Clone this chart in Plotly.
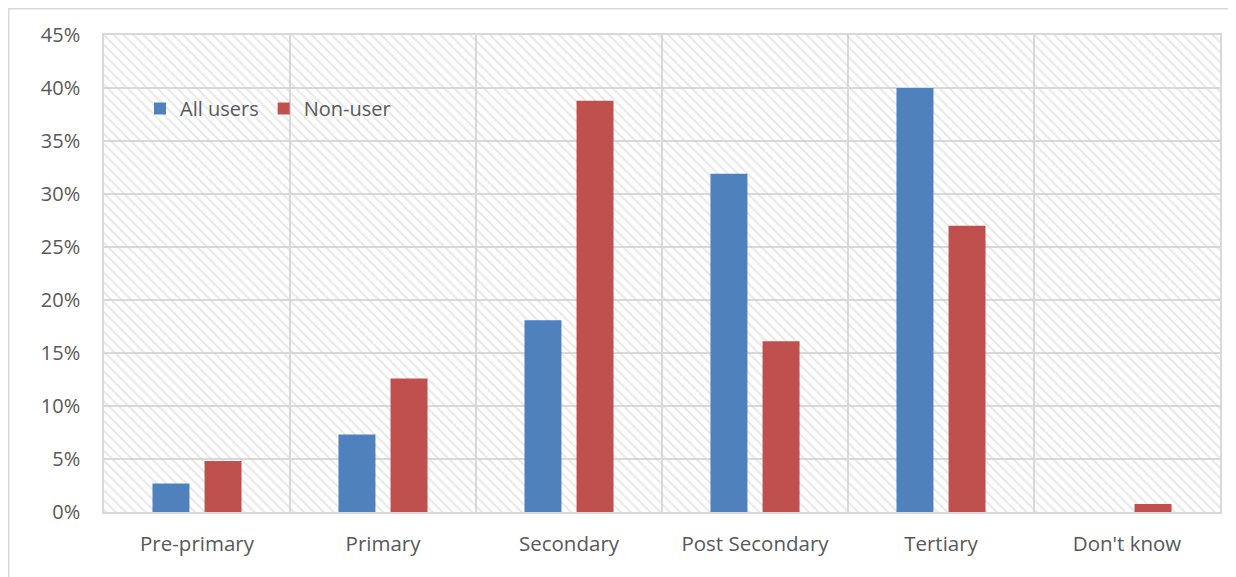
import plotly.graph_objects as go

categories = ["Pre-primary", "Primary", "Secondary", "Post Secondary", "Tertiary", "Don't know"]
all_users = [2.7, 7.3, 18.1, 31.9, 40.0, 0.0]
non_user = [4.8, 12.6, 38.8, 16.1, 27.0, 0.75]
series_names = ["All users", "Non-user"]
y_ticks = [0, 5, 10, 15, 20, 25, 30, 35, 40, 45]
y_tick_text = [f"{v}%" for v in y_ticks]

FONT = "Open Sans"
FS = 20.5
GRID = "#d9d9d9"
TXT = "#595959"

# page body has an 8px margin; the figure is sized to fit inside it
W, H = 1228, 569
L, R, T, B = 96, 16, 27, 65
PW, PH = W - L - R, H - T - B

fig = go.Figure()

# hatched plot-area background (on base axes, below the data overlay)
fig.add_trace(go.Bar(
    x=[0.5], y=[1], width=[1], xaxis="x", yaxis="y",
    marker=dict(color="rgba(0,0,0,0)", line=dict(width=0),
                pattern=dict(shape="\\", fgcolor="#d2d2d2", bgcolor="rgba(0,0,0,0)",
                             size=7, solidity=0.3)),
    showlegend=False, hoverinfo="skip",
))

fig.add_trace(go.Bar(x=categories, y=all_users, name=series_names[0], xaxis="x2", yaxis="y2",
                     marker=dict(color="#4f81bd", line=dict(width=0))))
fig.add_trace(go.Bar(x=categories, y=non_user, name=series_names[1], xaxis="x2", yaxis="y2",
                     marker=dict(color="#c0504d", line=dict(width=0))))

fig.update_layout(
    width=W, height=H,
    margin=dict(l=L, r=R, t=T, b=B),
    paper_bgcolor="white", plot_bgcolor="white",
    barmode="group", bargap=0.44, bargroupgap=0.29,
    font=dict(family=FONT, size=FS, color=TXT),
    xaxis=dict(range=[0, 1], visible=False, fixedrange=True),
    yaxis=dict(range=[0, 1], visible=False, fixedrange=True),
    xaxis2=dict(overlaying="x", type="category", tickson="boundaries", showgrid=True,
                gridcolor=GRID, gridwidth=1.5, showline=True, linecolor=GRID, linewidth=1.5,
                mirror=True, ticks="", tickfont=dict(size=FS, color=TXT), ticklabelstandoff=13),
    yaxis2=dict(overlaying="y", side="left", range=[0, 45], tickvals=y_ticks, ticktext=y_tick_text,
                showgrid=True, gridcolor=GRID, gridwidth=1.5, showline=True, linecolor=GRID,
                linewidth=1.5, mirror=True, ticks="", zeroline=False,
                tickfont=dict(size=20, color=TXT), ticklabelstandoff=18),
    legend=dict(orientation="h", x=(140 - 104) / PW, y=(512 - 89) / PH, xanchor="left",
                yanchor="top", bgcolor="rgba(0,0,0,0)", font=dict(size=20, color=TXT),
                traceorder="normal"),
    shapes=[dict(type="rect", xref="paper", yref="paper",
                 x0=-(L - 0.75) / PW, x1=1.1, y0=-0.3, y1=(PH + T - 0.75) / PH,
                 line=dict(color=GRID, width=1.5), fillcolor="rgba(0,0,0,0)", layer="below")],
)

fig.write_html("out.html")
